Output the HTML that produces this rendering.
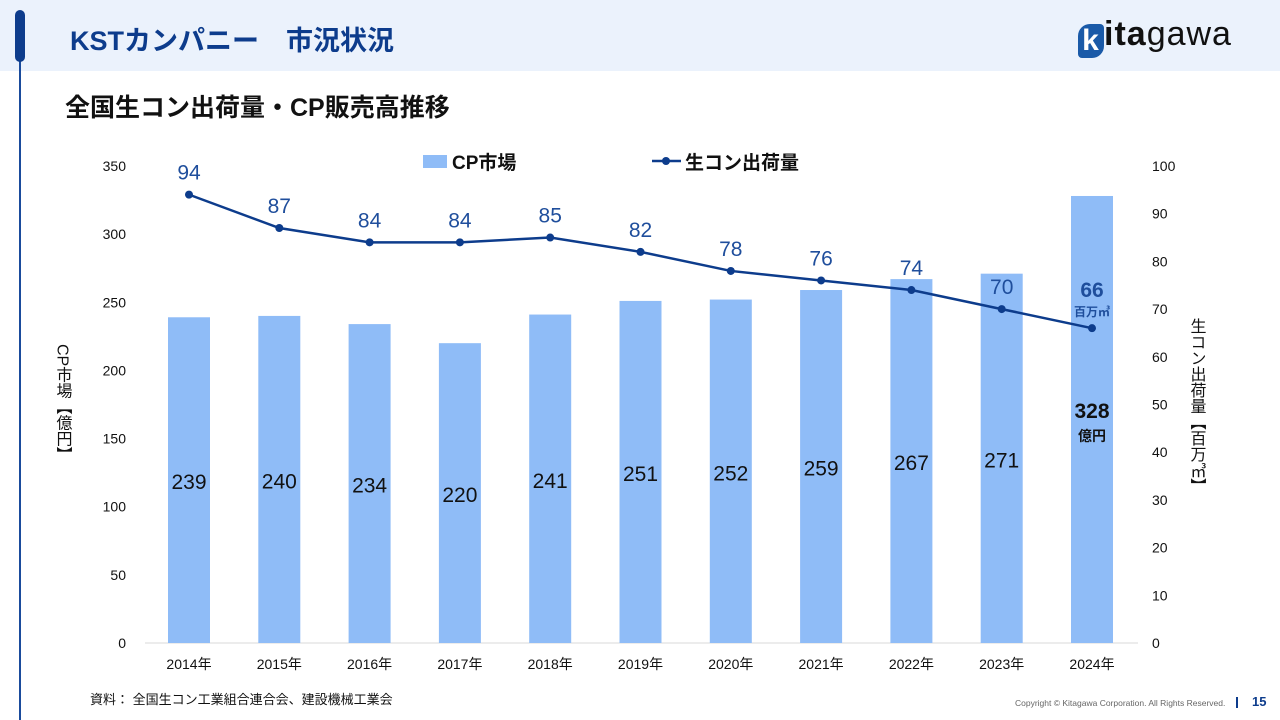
<!DOCTYPE html>
<html><head><meta charset="utf-8"><style>
body{margin:0;width:1280px;height:720px;position:relative;background:#fff;font-family:"Liberation Sans","Noto Sans CJK JP",sans-serif;overflow:hidden}
.abs{position:absolute}
</style></head><body>
<div class="abs" style="left:0;top:0;width:1280px;height:71px;background:#ebf2fc"></div>
<div class="abs" style="left:19px;top:40px;width:2px;height:680px;background:#1a4b9c"></div>
<div class="abs" style="left:15px;top:10px;width:10px;height:52px;border-radius:5px;background:#0d3c8c"></div>
<div class="abs" style="left:70px;top:19px;font-size:27px;font-weight:bold;color:#0d3c8c">KSTカンパニー　市況状況</div>
<div class="abs" style="left:1078px;top:14px;font-size:34px;color:#111;letter-spacing:1px;line-height:40px"><span style="display:inline-block;width:26px;height:34px;background:#1a5aa8;border-radius:12px 4px 12px 4px;color:#fff;font-weight:bold;text-align:center;line-height:34px;vertical-align:-5px;font-size:30px">k</span><b>ita</b>gawa</div>
<div class="abs" style="left:65px;top:88px;font-size:25px;font-weight:bold;color:#111">全国生コン出荷量・CP販売高推移</div>
<svg class="abs" style="left:0;top:0" width="1280" height="720" id="chart"></svg>
<div class="abs" style="left:90px;top:689px;font-size:13px;color:#111">資料：&nbsp;全国生コン工業組合連合会、建設機械工業会</div>
<div class="abs" style="left:1015px;top:698px;font-size:8.5px;color:#666">Copyright © Kitagawa Corporation. All Rights Reserved.</div>
<div class="abs" style="left:1236px;top:697px;width:2px;height:11px;background:#0d3c8c"></div>
<div class="abs" style="left:1252px;top:694px;font-size:13px;font-weight:bold;color:#0d3c8c">15</div>
<script>
const years=["2014年","2015年","2016年","2017年","2018年","2019年","2020年","2021年","2022年","2023年","2024年"];
const cpMarket=[239,240,234,220,241,251,252,259,267,271,328];
const shipment=[94,87,84,84,85,82,78,76,74,70,66];
const leftTicks=[0,50,100,150,200,250,300,350];
const rightTicks=[0,10,20,30,40,50,60,70,80,90,100];
const NS="http://www.w3.org/2000/svg";
const svg=document.getElementById('chart');
const y0=643,yTop=166;
const yL=v=>y0-v/350*(y0-yTop);
const yR=v=>y0-v/100*(y0-yTop);
const xC=i=>189+i*90.3;
function el(t,a,txt){const e=document.createElementNS(NS,t);for(const k in a)e.setAttribute(k,a[k]);if(txt!==undefined)e.textContent=txt;svg.appendChild(e);return e;}
let b=el('line',{x1:145,x2:1138,y1:y0,y2:y0,stroke:'#d9d9d9','stroke-width':1});

leftTicks.forEach(v=>{const t=el('text',{x:126,y:yL(v)+5,'text-anchor':'end','font-size':14,fill:'#111'},v);
});
rightTicks.forEach(v=>{const t=el('text',{x:1152,y:yR(v)+5,'font-size':14,fill:'#111'},v);
});
years.forEach((y,i)=>{const t=el('text',{x:xC(i),y:669,'text-anchor':'middle','font-size':14,fill:'#111'},y);
});
cpMarket.forEach((v,i)=>{const r=el('rect',{x:xC(i)-21,y:yL(v),width:42,height:y0-yL(v),fill:'#8fbcf7'});

const ym=(yL(v)+y0)/2;
if(i<cpMarket.length-1){const t=el('text',{x:xC(i),y:ym+9,'text-anchor':'middle','font-size':21,fill:'#111'},v);
}
else{const t=el('text',{x:xC(i),y:418,'text-anchor':'middle','font-size':21,'font-weight':'bold',fill:'#111'},v);

const u=el('text',{x:xC(i),y:441,'text-anchor':'middle','font-size':14,'font-weight':'bold',fill:'#111'},'億円');
}
});
const pts=shipment.map((v,i)=>xC(i)+','+yR(v)).join(' ');
const pl=el('polyline',{points:pts,fill:'none',stroke:'#0d3c8c','stroke-width':2.5});

shipment.forEach((v,i)=>{const c=el('circle',{cx:xC(i),cy:yR(v),r:4,fill:'#0d3c8c'});

if(i<shipment.length-1){const t=el('text',{x:xC(i),y:yR(v)-15,'text-anchor':'middle','font-size':21,fill:'#1f4e9c'},v);
}
else{const t=el('text',{x:xC(i),y:297,'text-anchor':'middle','font-size':21,'font-weight':'bold',fill:'#1f4e9c'},v);

const u=el('text',{x:xC(i),y:316,'text-anchor':'middle','font-size':12,'font-weight':'bold',fill:'#1f4e9c'},'百万㎥');
}
});
let l1=el('rect',{x:423,y:155,width:24,height:13,fill:'#8fbcf7'});
let l2=el('text',{x:452,y:169,'font-size':19,'font-weight':'bold',fill:'#111'},'CP市場');
let l3=el('line',{x1:652,x2:681,y1:161,y2:161,stroke:'#0d3c8c','stroke-width':2.5});
let l4=el('circle',{cx:666,cy:161,r:4,fill:'#0d3c8c'});
let l5=el('text',{x:685,y:169,'font-size':19,'font-weight':'bold',fill:'#111'},'生コン出荷量');
let a1=el('text',{x:0,y:0,'font-size':16,fill:'#111','writing-mode':'tb',transform:'translate(62,344)'},'CP市場【億円】');
let a2=el('text',{x:0,y:0,'font-size':16,fill:'#111','writing-mode':'tb',transform:'translate(1196,318)'},'生コン出荷量【百万㎥】');
</script>
</body></html>
